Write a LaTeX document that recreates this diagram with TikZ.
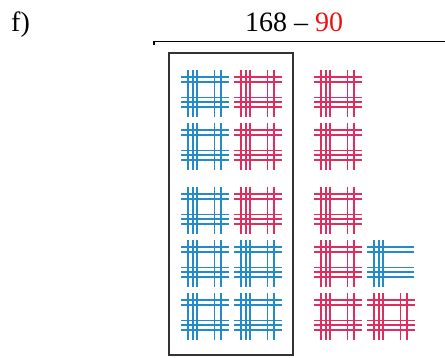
\documentclass[tikz,border=0pt]{standalone}
\usepackage{fontspec}
\setmainfont{Liberation Serif}
\definecolor{stickblue}{RGB}{35,140,200}
\definecolor{stickred}{RGB}{222,45,95}
\definecolor{numred}{RGB}{235,20,20}
\tikzset{
  stick/.style={line width=1.7pt},
  frame/.style={draw=black!80, line width=1.3pt},
  txt/.style={font=\fontsize{28}{30}\selectfont, inner sep=0pt, anchor=base}
}
% full bundle: 5 vertical + 5 horizontal sticks
\newcommand\fullbundle[3]{%
  \begin{scope}[shift={(#1,#2)}, stick, draw=#3]
    \foreach \vx in {7,12,16,33.5,40} \draw (\vx,0) -- (\vx,-47);
    \foreach \hy in {7,12,27.5,32,37} \draw (0,-\hy) -- (48,-\hy);
  \end{scope}}
% partial bundle: 3 vertical + 5 horizontal sticks
\newcommand\partbundle[3]{%
  \begin{scope}[shift={(#1,#2)}, stick, draw=#3]
    \foreach \vx in {7,12,16} \draw (\vx,0) -- (\vx,-47);
    \foreach \hy in {7,12,27.5,32,37} \draw (0,-\hy) -- (47,-\hy);
  \end{scope}}
\begin{document}
\begin{tikzpicture}[x=1pt,y=1pt]
\useasboundingbox (0,0) rectangle (445,-358);
% labels
\node[txt, anchor=base west] (lbl) at (11,-32) {f)};
\node[txt] (expr) at (294,-32) {168 -- \textcolor{numred}{90}};
% top rule with hook
\draw[line width=1.4pt] (154,-45) -- (154,-41.5) -- (445,-41.5);
% frame
\draw[frame] (169,-53) rectangle (293,-355);
% column 1 (blue)
\fullbundle{181}{-70}{stickblue}
\fullbundle{181}{-123}{stickblue}
\fullbundle{181}{-187}{stickblue}
\fullbundle{181}{-240}{stickblue}
\fullbundle{181}{-293}{stickblue}
% column 2
\fullbundle{234}{-70}{stickred}
\fullbundle{234}{-123}{stickred}
\fullbundle{234}{-187}{stickred}
\fullbundle{234}{-240}{stickblue}
\fullbundle{234}{-293}{stickblue}
% column 3 (red)
\fullbundle{314}{-70}{stickred}
\fullbundle{314}{-123}{stickred}
\fullbundle{314}{-187}{stickred}
\fullbundle{314}{-240}{stickred}
\fullbundle{314}{-293}{stickred}
% column 4
\partbundle{367}{-240}{stickblue}
\fullbundle{367}{-293}{stickred}
\end{tikzpicture}
\end{document}
